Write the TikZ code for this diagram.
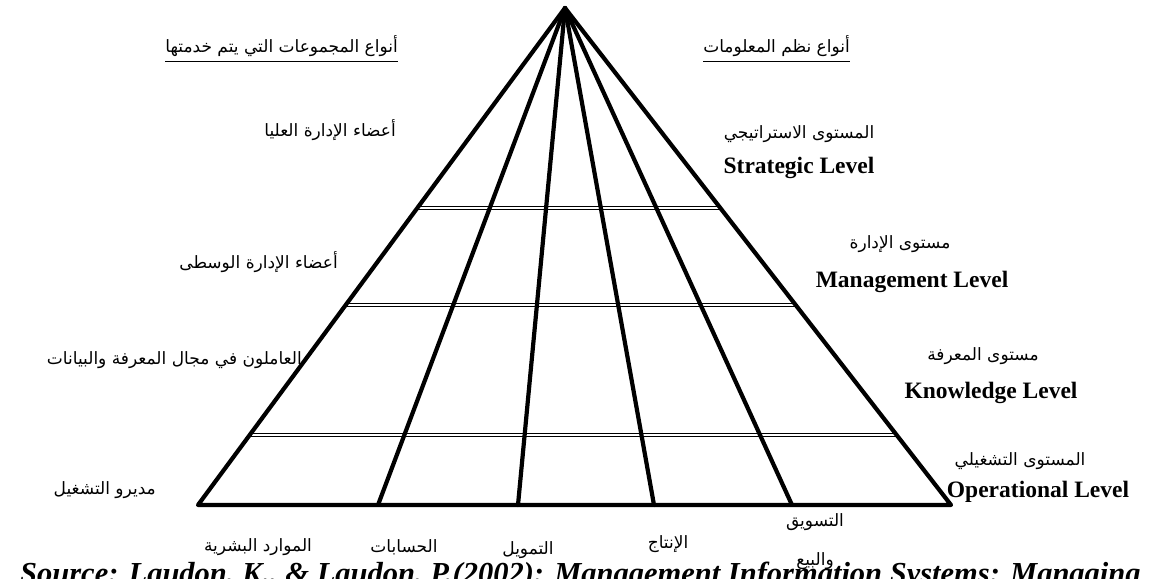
\documentclass[tikz,border=0pt]{standalone}
\usepackage{fontspec}
\setmainfont{Liberation Serif}
\newfontfamily\arabicfont[Script=Arabic]{DejaVu Sans}
\TeXXeTstate=1
\usetikzlibrary{calc}
\newcommand{\ar}[1]{{\arabicfont\beginR #1\endR}}
\begin{document}
\begin{tikzpicture}[x=1pt,y=-1pt,
  edge/.style={line width=4.2pt,line cap=round,line join=round},
  levelline/.style={double,double distance=1.6pt,line width=0.9pt},
  artext/.style={font=\fontsize{17}{20}\selectfont,inner sep=0pt},
  entext/.style={font=\fontsize{23.5}{26}\selectfont\bfseries,inner sep=0pt},
  heading/.style={artext}]
\clip (0,0) rectangle (1164,578);
\fill[white] (0,0) rectangle (1164,578);

% pyramid corners and base points of the functional divisions
\coordinate (apex) at (565,8);
\coordinate (bl) at (198,505);
\coordinate (br) at (951,505);
\coordinate (d1) at (378,505);
\coordinate (d2) at (518,505);
\coordinate (d3) at (654,505);
\coordinate (d4) at (792,505);

% level separators (double lines)
\foreach \t/\n in {0.4024/a,0.5976/b,0.859/c}{
  \coordinate (l\n) at ($(apex)!\t!(bl)$);
  \coordinate (r\n) at ($(apex)!\t!(br)$);
  \draw[levelline] (l\n) -- (r\n);
}

% outline and division lines
\draw[edge] (bl) -- (apex) -- (br) -- cycle;
\foreach \p in {d1,d2,d3,d4}{\draw[edge] (apex) -- (\p);}

% headings
\node[heading,anchor=east] (hl) at (398,46) {\ar{أنواع المجموعات التي يتم خدمتها}};
\draw[line width=1.2pt] ([yshift=-5pt]hl.south west) -- ([yshift=-5pt]hl.south east);
\node[heading,anchor=east] (hr) at (850,46) {\ar{أنواع نظم المعلومات}};
\draw[line width=1.2pt] ([yshift=-5pt]hr.south west) -- ([yshift=-5pt]hr.south east);

% groups served
\node[artext,anchor=east] (g1) at (396,130) {\ar{أعضاء الإدارة العليا}};
\node[artext,anchor=east] (g2) at (338,262) {\ar{أعضاء الإدارة الوسطى}};
\node[artext,anchor=east] (g3) at (302,360) {\ar{العاملون في مجال المعرفة والبيانات}};
\node[artext,anchor=east] (g4) at (156,490) {\ar{مديرو التشغيل}};

% system levels
\node[artext] (s1a) at (799,134) {\ar{المستوى الاستراتيجي}};
\node[entext] (s1b) at (799,168) {Strategic Level};
\node[artext] (s2a) at (900,244) {\ar{مستوى الإدارة}};
\node[entext] (s2b) at (912,282) {Management Level};
\node[artext] (s3a) at (983,356) {\ar{مستوى المعرفة}};
\node[entext] (s3b) at (991,393) {Knowledge Level};
\node[artext] (s4a) at (1020,461) {\ar{المستوى التشغيلي}};
\node[entext] (s4b) at (1038,492) {Operational Level};

% functional areas
\node[artext] (f1) at (258,547) {\ar{الموارد البشرية}};
\node[artext] (f2) at (404,547) {\ar{الحسابات}};
\node[artext] (f3) at (528,550) {\ar{التمويل}};
\node[artext] (f4) at (668,544) {\ar{الإنتاج}};
\node[artext] (f5) at (815,522) {\ar{التسويق}};
\node[artext] (f6) at (815,561) {\ar{والبيع}};

% source line
\node[anchor=base west,inner sep=0pt,font=\fontsize{30.5}{34}\selectfont\bfseries\itshape] (src) at (20,583)
  {Source: Laudon, K., \& Laudon, P.(2002): Management Information Systems: Managing};
\end{tikzpicture}
\end{document}
